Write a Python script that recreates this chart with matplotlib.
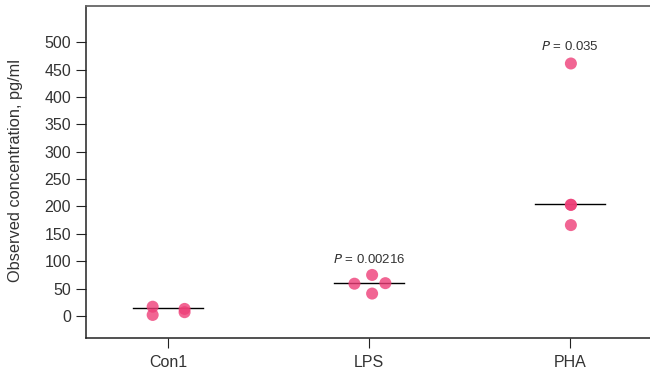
import matplotlib
matplotlib.use("Agg")
import matplotlib.pyplot as plt
import numpy as np

plt.rcParams['font.family'] = ['Liberation Sans', 'DejaVu Sans']

groups = ["Con1", "LPS", "PHA"]
con1_vals = [17, 2, 13, 7]
con1_off = [-0.077, -0.077, 0.082, 0.082]
lps_vals = [59, 75, 41, 60]
lps_off = [-0.072, 0.016, 0.016, 0.082]
pha_vals = [461, 203, 203, 166]
pha_off = [0.006, 0.006, 0.006, 0.006]
medians = [14, 61, 204]
p_labels = ["", "0.00216", "0.035"]
p_y = [92, 481]

point_color = "#ee3f78"
text_color = "#333333"

fig = plt.figure(figsize=(6.5, 3.73), dpi=100)
ax = fig.add_axes([0.132, 0.094, 0.868, 0.89])

for i, (vals, offs) in enumerate([(con1_vals, con1_off), (lps_vals, lps_off), (pha_vals, pha_off)]):
    ax.scatter(np.array(offs) + i, vals, s=75, color=point_color, alpha=0.8,
               edgecolors="none", zorder=3)
    ax.plot([i - 0.174, i + 0.174], [medians[i], medians[i]], color="black", lw=1.0, zorder=2)
    if p_labels[i]:
        ax.text(i, p_y[i - 1], f"$\\it{{P}}$ = {p_labels[i]}", ha="center", va="bottom",
                fontsize=9.5, color=text_color)

ax.set_xlim(-0.41, 2.4)
ax.set_ylim(-40, 566)
ax.set_xticks(range(len(groups)))
ax.set_xticklabels(groups)
ax.set_yticks(np.arange(0, 501, 50))
ax.spines["right"].set_visible(False)
for s in ["left", "bottom"]:
    ax.spines[s].set_color("#222222")
    ax.spines[s].set_linewidth(1.1)
ax.spines["top"].set_color("#666666")
ax.spines["top"].set_linewidth(1.3)
ax.tick_params(axis="both", length=7, width=0.8, color="#222222", labelsize=11.5,
               labelcolor=text_color)
ax.tick_params(axis="x", pad=5)
ax.set_ylabel("Observed concentration, pg/ml", fontsize=11.8, color=text_color)
ax.yaxis.set_label_coords(-0.112, 0.503)

fig.savefig("out.png", dpi=100)
